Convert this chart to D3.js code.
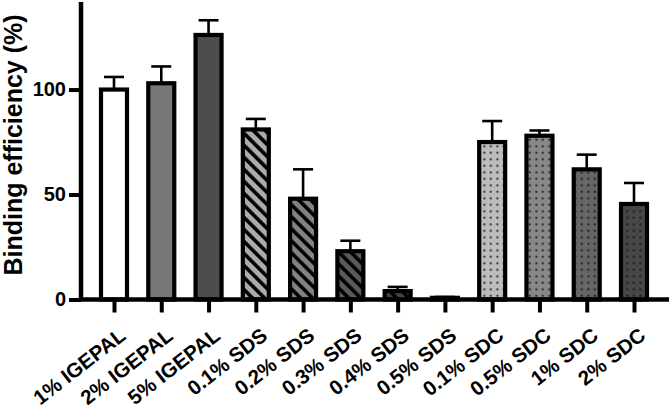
<!DOCTYPE html>
<html><head><meta charset="utf-8">
<script src="https://cdn.jsdelivr.net/npm/d3@7"></script>
<style>html,body{margin:0;padding:0;background:#fff;} svg{display:block;}</style>
</head><body>
<svg id="chart" width="669" height="411"></svg>
<script>
const categories = ["1% IGEPAL","2% IGEPAL","5% IGEPAL","0.1% SDS","0.2% SDS","0.3% SDS","0.4% SDS","0.5% SDS","0.1% SDC","0.5% SDC","1% SDC","2% SDC"];
const means = [100, 103, 126, 81, 48, 23, 4, 0.8, 75, 78, 62, 45.5];
const errors = [6, 8, 7, 5, 14, 5, 2, 0.4, 10, 2.5, 7, 10];
const fills = ["#ffffff","#777777","#4d4d4d","#ababab","#828282","#5a5a5a","#444444","#333333","#bcbcbc","#888888","#666666","#474747"];
const patterns = ["none","none","none","hatch","hatch","hatch","hatch","hatch","dots","dots","dots","dots"];
const yTicks = [0, 50, 100];

const svg = d3.select("#chart");
const defs = svg.append("defs");
categories.forEach((c, i) => {
  if (patterns[i] === "hatch") {
    const p = defs.append("pattern").attr("id", "pat" + i)
      .attr("patternUnits", "userSpaceOnUse").attr("width", 8.5).attr("height", 8.5)
      .attr("patternTransform", "rotate(-45)");
    p.append("rect").attr("width", 8.5).attr("height", 8.5).attr("fill", fills[i]);
    p.append("rect").attr("x", 0).attr("y", 0).attr("width", 3.6).attr("height", 8.5).attr("fill", "#000");
  } else if (patterns[i] === "dots") {
    const p = defs.append("pattern").attr("id", "pat" + i)
      .attr("patternUnits", "userSpaceOnUse").attr("width", 6.5).attr("height", 6.5);
    p.append("rect").attr("width", 6.5).attr("height", 6.5).attr("fill", fills[i]);
    p.append("rect").attr("x", 2.4).attr("y", 2.4).attr("width", 1.8).attr("height", 1.8).attr("fill", "#111");
  }
});

const x = d3.scalePoint().domain(categories).range([114, 634]);
const y = d3.scaleLinear().domain([0, 141.7]).range([299.5, 2]);
const barW = 26;
const font = "Liberation Sans, Arial, sans-serif";

const g = svg.append("g");

// error bars
g.selectAll(".err").data(categories).join("g").each(function(c, i) {
  const cx = x(c);
  const sel = d3.select(this);
  sel.append("line").attr("x1", cx).attr("x2", cx)
    .attr("y1", y(means[i])).attr("y2", y(means[i] + errors[i]))
    .attr("stroke", "#000").attr("stroke-width", 2.6);
  sel.append("line").attr("x1", cx - 10).attr("x2", cx + 10)
    .attr("y1", y(means[i] + errors[i])).attr("y2", y(means[i] + errors[i]))
    .attr("stroke", "#000").attr("stroke-width", 2.6);
});

// bars
g.selectAll(".bar").data(categories).join("rect")
  .attr("x", c => x(c) - barW / 2)
  .attr("y", (c, i) => y(means[i]))
  .attr("width", barW)
  .attr("height", (c, i) => y(0) - y(means[i]))
  .attr("fill", (c, i) => patterns[i] === "none" ? fills[i] : `url(#pat${i})`)
  .attr("stroke", "#000").attr("stroke-width", 4.2);

// y axis
const yAxis = svg.append("g").attr("transform", "translate(81,0)")
  .call(d3.axisLeft(y).tickValues(yTicks).tickSize(12).tickPadding(3).tickSizeOuter(0));
yAxis.select(".domain").attr("d", `M0,${y(0)}V2`).attr("stroke-width", 4.5).attr("stroke", "#000");
yAxis.selectAll(".tick line").attr("stroke-width", 4);
yAxis.selectAll(".tick text").attr("font-family", font)
  .attr("font-weight", "bold").attr("font-size", 20).attr("fill", "#000");

// x axis
const xAxis = svg.append("g").attr("transform", `translate(0,${y(0)})`)
  .call(d3.axisBottom(x).tickSize(13).tickSizeOuter(0).tickFormat(""));
xAxis.select(".domain").attr("d", "M79,0H669").attr("stroke-width", 4.5).attr("stroke", "#000");
xAxis.selectAll(".tick line").attr("stroke-width", 4);

// x labels
svg.append("g").selectAll("text").data(categories).join("text")
  .attr("transform", c => `translate(${x(c) + 13},${338}) rotate(-38)`)
  .attr("text-anchor", "end")
  .attr("font-family", font)
  .attr("font-weight", "bold").attr("font-size", 20.5).attr("fill", "#000")
  .text(c => c);

// y title
svg.append("text")
  .attr("transform", "translate(22,145) rotate(-90)")
  .attr("text-anchor", "middle")
  .attr("font-family", font)
  .attr("font-weight", "bold").attr("font-size", 25).attr("fill", "#000")
  .text("Binding efficiency (%)");
</script>
</body></html>
